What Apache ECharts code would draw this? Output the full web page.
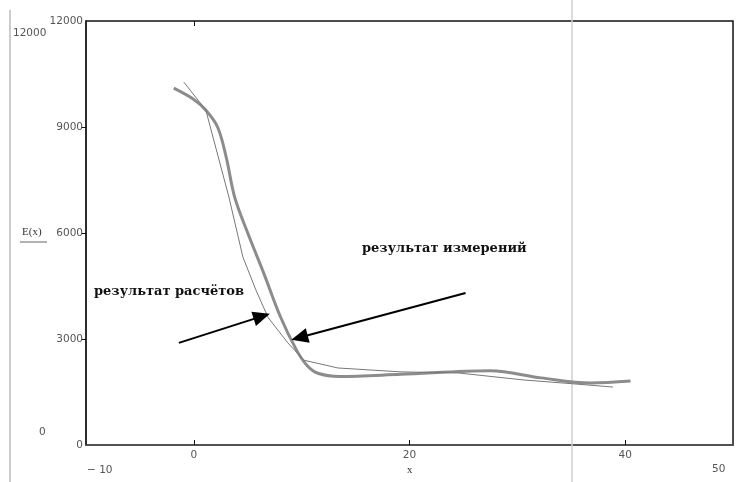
<!DOCTYPE html>
<html>
<head>
<meta charset="utf-8">
<script src="https://cdn.jsdelivr.net/npm/echarts@6/dist/echarts.min.js"></script>
<style>
  html, body { margin: 0; padding: 0; background: #fff; }
  #chart { width: 737px; height: 482px; }
</style>
</head>
<body>
<div id="chart"></div>
<script>
// расчёт (толстая кривая)
const calcX = [-1.86, 0, 1.1, 2.2, 3.0, 3.8, 5.0, 6.5, 8.0, 9.5, 10.5, 11.5, 13.5, 19.2, 27.5, 32.2, 36.8, 40.5];
const calcY = [10100, 9780, 9480, 9000, 8150, 7000, 6000, 4850, 3650, 2700, 2250, 2030, 1940, 2000, 2100, 1900, 1755, 1810];
// измерения (тонкая линия)
const measX = [-0.93, 1.11, 3.25, 4.55, 5.75, 6.9, 8.72, 10.2, 13.36, 19.2, 24.5, 30.6, 35.25, 38.87];
const measY = [10270, 9480, 7020, 5320, 4390, 3600, 2890, 2400, 2180, 2070, 2040, 1840, 1730, 1640];
const xTicks = [0, 20, 40];
const yTicks = [0, 3000, 6000, 9000, 12000];

const chart = echarts.init(document.getElementById("chart"));

const zip = (xs, ys) => xs.map((x, i) => [x, ys[i]]);
const labelStyle = { color: "#555", fontSize: 10.5, fontFamily: "DejaVu Sans" };
const outerStyle = { fill: "#555", fontSize: 10.5, fontFamily: "DejaVu Sans" };
const noteStyle = { fill: "#111", fontSize: 13, fontWeight: "bold", fontFamily: "DejaVu Serif" };

const option = {
  animation: false,
  grid: { left: 86, right: 4, top: 21, bottom: 37, show: true, borderColor: "#111", borderWidth: 1.5 },
  xAxis: [
    {
      type: "value",
      min: -10,
      max: 50,
      interval: 10,
      axisLine: { show: true, onZero: false, lineStyle: { color: "#555", width: 1.5 } },
      axisTick: { show: true, inside: true, length: 5, customValues: xTicks, lineStyle: { color: "#111" } },
      axisLabel: Object.assign({ customValues: xTicks, margin: 5 }, labelStyle),
      splitLine: { show: false },
    },
    {
      type: "value",
      position: "top",
      min: -10,
      max: 50,
      axisLine: { show: false, onZero: false },
      axisTick: { show: true, inside: true, length: 5, customValues: [0], lineStyle: { color: "#111" } },
      axisLabel: { show: false },
      splitLine: { show: false },
    },
  ],
  yAxis: {
    type: "value",
    min: 0,
    max: 12000,
    interval: 3000,
    axisLine: { show: true, onZero: false, lineStyle: { color: "#222", width: 1.5 } },
    axisTick: { show: true, length: 5, customValues: [3000, 6000, 9000], lineStyle: { color: "#111" } },
    axisLabel: Object.assign({ margin: 3, customValues: yTicks, formatter: (v) => String(v) }, labelStyle),
    splitLine: { show: false },
  },
  series: [
    {
      name: "результат расчётов",
      type: "line",
      data: zip(calcX, calcY),
      smooth: 0.35,
      symbol: "none",
      lineStyle: { color: "#8c8c8c", width: 3 },
      z: 2,
    },
    {
      name: "результат измерений",
      type: "line",
      data: zip(measX, measY),
      symbol: "none",
      lineStyle: { color: "#777", width: 1 },
      z: 3,
      markLine: {
        silent: true,
        symbol: ["none", "triangle"],
        symbolSize: [15, 17],
        lineStyle: { color: "#000", width: 2, type: "solid" },
        label: { show: false },
        data: [
          [{ coord: [-1.39, 2890] }, { coord: [6.3, 3640] }],
          [{ coord: [25.2, 4300] }, { coord: [9.8, 3040] }],
        ],
      },
    },
  ],
  graphic: [
    { type: "line", shape: { x1: 572, y1: 0, x2: 572, y2: 482 }, style: { stroke: "#cfcfcf", lineWidth: 1.5 }, z: 1 },
    { type: "line", shape: { x1: 10, y1: 10, x2: 10, y2: 482 }, style: { stroke: "#bdbdbd", lineWidth: 1.5 } },
    { type: "text", left: 13, top: 28, style: Object.assign({ text: "12000" }, outerStyle) },
    { type: "text", left: 39, top: 427, style: Object.assign({ text: "0" }, outerStyle) },
    { type: "text", left: 22, top: 227, style: { text: "E(x)", fill: "#333", fontSize: 11, fontFamily: "Liberation Serif" } },
    { type: "line", shape: { x1: 20, y1: 242, x2: 47, y2: 242 }, style: { stroke: "#666", lineWidth: 1 } },
    { type: "text", left: 87, top: 465, style: Object.assign({ text: "\u2212 10" }, outerStyle) },
    { type: "text", left: 407, top: 465, style: { text: "x", fill: "#333", fontSize: 11, fontFamily: "Liberation Serif" } },
    { type: "text", left: 712, top: 464, style: Object.assign({ text: "50" }, outerStyle) },
    { type: "text", left: 362, top: 242, style: Object.assign({ text: "результат измерений" }, noteStyle) },
    { type: "text", left: 94, top: 285, style: Object.assign({ text: "результат расчётов" }, noteStyle) },
  ],
};

chart.setOption(option);
</script>
</body>
</html>
